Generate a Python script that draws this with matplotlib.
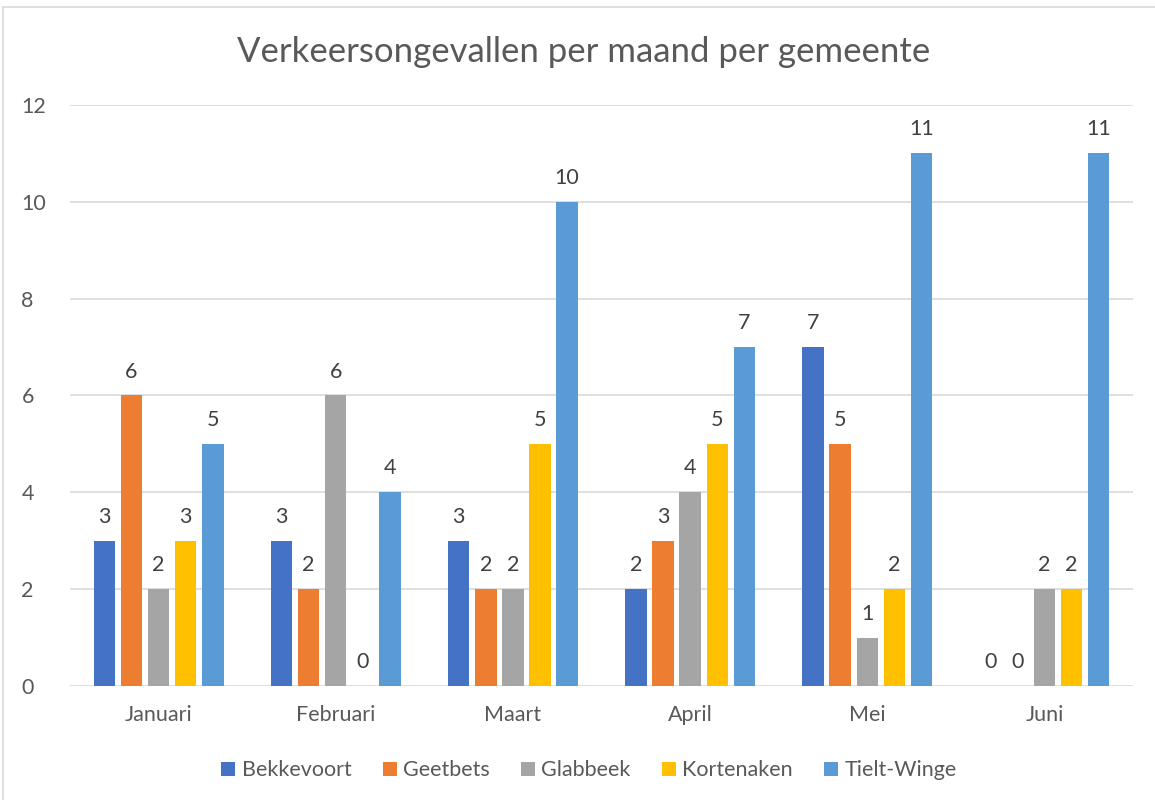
import numpy as np
import matplotlib.pyplot as plt
from matplotlib.patches import Rectangle

months = ['Januari', 'Februari', 'Maart', 'April', 'Mei', 'Juni']
bekkevoort = [3, 3, 3, 2, 7, 0]
geetbets = [6, 2, 2, 3, 5, 0]
glabbeek = [2, 6, 2, 4, 1, 2]
kortenaken = [3, 0, 5, 5, 2, 2]
tielt_winge = [5, 4, 10, 7, 11, 11]

series = [
    ('Bekkevoort', bekkevoort, '#4472c4'),
    ('Geetbets', geetbets, '#ed7d31'),
    ('Glabbeek', glabbeek, '#a5a5a5'),
    ('Kortenaken', kortenaken, '#ffc000'),
    ('Tielt-Winge', tielt_winge, '#5b9bd5'),
]

plt.rcParams['font.family'] = ['Lato', 'DejaVu Sans']
txt = '#595959'

fig = plt.figure(figsize=(11.55, 8), dpi=100)
ax = fig.add_axes([0.0606, 0.1425, 0.9204, 0.7265])

# chart border
fig.patches.append(Rectangle((0.003, -0.01), 1.2, 1.0012, transform=fig.transFigure,
                             fill=False, edgecolor='#d9d9d9', linewidth=1.2))

x = np.arange(len(months))
pitch = 0.153
width = 0.121
for i, (name, vals, color) in enumerate(series):
    pos = x + (i - 2) * pitch
    bars = ax.bar(pos, vals, width, color=color, label=name, zorder=3)
    ax.bar_label(bars, labels=[str(v) for v in vals], padding=10,
                 fontsize=15.5, color='#404040')

ax.set_xlim(-0.5, 5.5)
ax.set_ylim(0, 12)
ax.set_yticks(range(0, 13, 2))
ax.set_xticks(x)
ax.set_xticklabels(months)
ax.tick_params(axis='both', length=0, labelsize=15.5, labelcolor=txt)
ax.tick_params(axis='x', pad=14)
ax.tick_params(axis='y', pad=35)
ax.grid(axis='y', color='#d9d9d9', linewidth=1.2, zorder=0)
for s in ax.spines.values():
    s.set_visible(False)
for lab in ax.get_yticklabels():
    lab.set_horizontalalignment('left')

fig.text(0.505, 0.935, 'Verkeersongevallen per maand per gemeente',
         ha='center', va='center', fontsize=25, color=txt)

fig.legend(loc='center', bbox_to_anchor=(0.51, 0.037), ncol=5, frameon=False,
           fontsize=15.5, labelcolor=txt, handlelength=0.65, handleheight=0.65,
           handletextpad=0.3, columnspacing=1.45)

fig.savefig('out.png', dpi=100, facecolor='white')
